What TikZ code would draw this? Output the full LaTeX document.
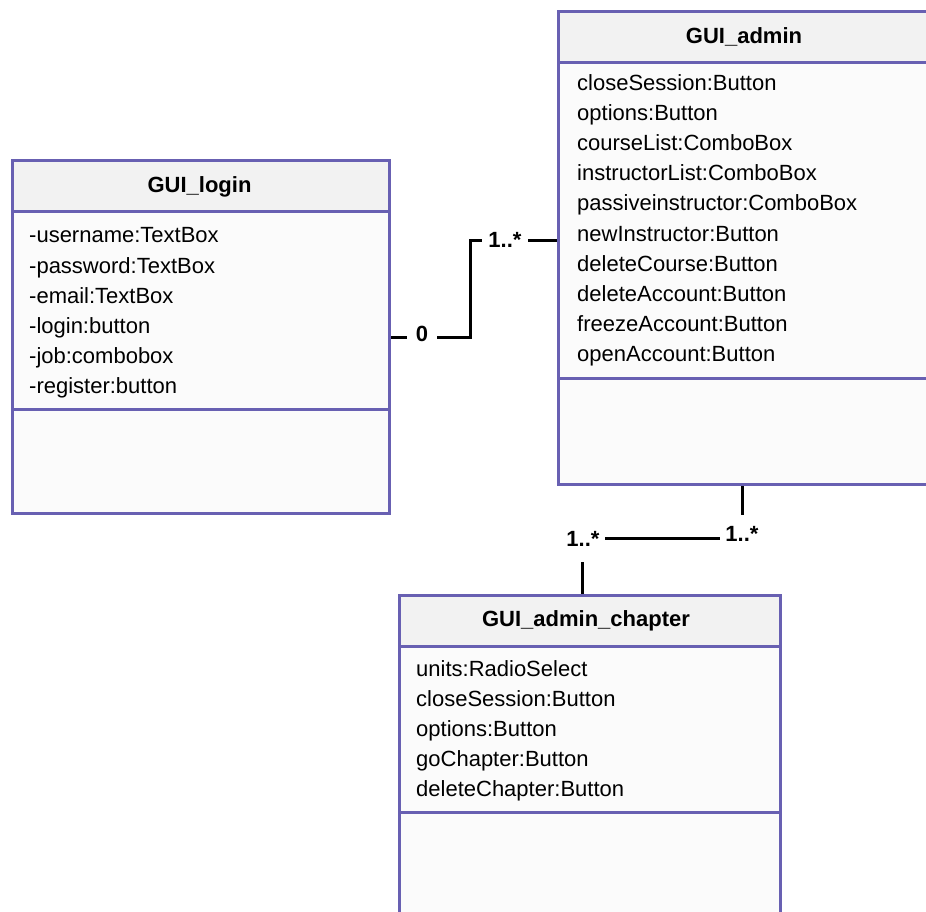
\documentclass[tikz,border=0pt]{standalone}
\usepackage{fontspec}
\setmainfont{Liberation Sans}
\definecolor{umlborder}{RGB}{104,96,178}
\definecolor{umlhead}{RGB}{242,242,242}
\definecolor{umlbody}{RGB}{251,251,251}
\begin{document}
\begin{tikzpicture}[x=1pt,y=-1pt,
  classbox/.style={draw=umlborder,line width=3pt,inner sep=0pt,anchor=north west},
  divider/.style={draw=umlborder,line width=3pt},
  classtitle/.style={font=\fontsize{22}{26}\selectfont\bfseries,anchor=base,inner sep=0pt},
  attr/.style={font=\fontsize{22}{26}\selectfont,anchor=base west,inner sep=0pt},
  assoc/.style={draw=black,line width=3pt},
  mult/.style={font=\fontsize{22}{26}\selectfont\bfseries,fill=white,inner sep=0pt}]
\useasboundingbox (0,0) rectangle (926,912);

% ---------- GUI_login ----------
\fill[umlbody] (11,159) rectangle (388,512);
\fill[umlhead] (11,159) rectangle (388,212);
\node[classbox,minimum width=377,minimum height=353] (login) at (11,159) {};
\draw[divider] (11,212) -- (388,212);
\draw[divider] (11,409) -- (388,409);
\node[classtitle] (login-title) at (199.5,193) {GUI\_login};
\foreach \t [count=\i] in {-username:TextBox,-password:TextBox,-email:TextBox,-login:button,-job:combobox,-register:button}
  \node[attr] (login-a\i) at (29,{243+30*(\i-1)}) {\t};

% ---------- GUI_admin ----------
\fill[umlbody] (557,10) rectangle (932,483);
\fill[umlhead] (557,10) rectangle (932,63);
\node[classbox,minimum width=375,minimum height=473] (admin) at (557,10) {};
\draw[divider] (557,63) -- (932,63);
\draw[divider] (557,378) -- (932,378);
\node[classtitle] (admin-title) at (744,44) {GUI\_admin};
\foreach \t [count=\i] in {closeSession:Button,options:Button,courseList:ComboBox,instructorList:ComboBox,passiveinstructor:ComboBox,newInstructor:Button,deleteCourse:Button,deleteAccount:Button,freezeAccount:Button,openAccount:Button}
  \node[attr] (admin-a\i) at (577,{91+30*(\i-1)}) {\t};

% ---------- GUI_admin_chapter ----------
\fill[umlbody] (398,594) rectangle (779,930);
\fill[umlhead] (398,594) rectangle (779,646);
\node[classbox,minimum width=381,minimum height=336] (chapter) at (398,594) {};
\draw[divider] (398,646) -- (779,646);
\draw[divider] (398,812) -- (779,812);
\node[classtitle] (chapter-title) at (586,626) {GUI\_admin\_chapter};
\foreach \t [count=\i] in {units:RadioSelect,closeSession:Button,options:Button,goChapter:Button,deleteChapter:Button}
  \node[attr] (chapter-a\i) at (416,{676+30*(\i-1)}) {\t};

% ---------- associations ----------
\coordinate (bend1) at (470,240);
\coordinate (drop1) at (742,538);
\coordinate (drop2) at (582,538);

\draw[assoc] (login.east) -| (bend1) -- (bend1 -| admin.west);
\node[mult,minimum width=30,minimum height=22] (m-login) at (422,334) {0};
\node[mult,minimum width=46,minimum height=22] (m-admin) at (505,240) {1..*};

\draw[assoc] (admin.south -| drop1) -- (drop1) -- (drop2) -- (chapter.north -| drop2);
\node[mult,minimum width=44,minimum height=38] (m-admin2) at (742,534) {1..*};
\node[mult,minimum width=44,minimum height=46] (m-chapter) at (583,539) {1..*};
\end{tikzpicture}
\end{document}
